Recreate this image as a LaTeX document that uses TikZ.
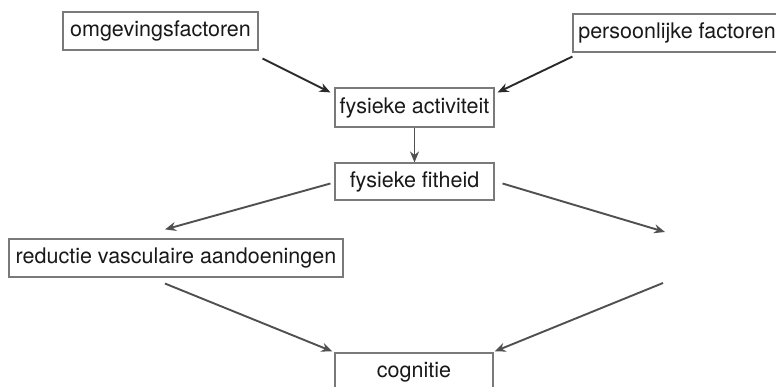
\documentclass[tikz,border=0pt]{standalone}
\usepackage{fontspec}
\setmainfont{TeX Gyre Heros}
\usetikzlibrary{arrows.meta,calc}
\definecolor{boxline}{HTML}{7A7A7A}
\definecolor{arrowdark}{HTML}{2A2A2A}
\definecolor{arrowgray}{HTML}{505050}
\tikzset{
  factor/.style={draw=boxline, line width=1.1pt, rectangle, inner sep=0pt,
    font=\fontsize{21.5}{24}\selectfont, text=black!90},
  link/.style={line width=1.9pt, draw=arrowgray,
    -{Stealth[length=11pt,width=9pt]}},
  linkdark/.style={link, draw=arrowdark},
}
\begin{document}
\begin{tikzpicture}[x=1pt,y=-1pt]
  \useasboundingbox[fill=white] (0,0) rectangle (776,387);

  % factor boxes
  \node[factor, minimum width=195pt, minimum height=38pt] (omg) at (160.5,31) {omgevingsfactoren};
  \node[factor, minimum width=208pt, minimum height=38pt] (pers) at (677,33) {persoonlijke factoren};
  \node[factor, minimum width=159pt, minimum height=39pt] (act) at (414.5,107.5) {fysieke activiteit};
  \node[factor, minimum width=159pt, minimum height=37pt] (fit) at (414.5,181.5) {fysieke fitheid};
  \node[factor, minimum width=334pt, minimum height=38pt] (red) at (176,258) {reductie vasculaire aandoeningen};
  \node[factor, minimum width=158pt, minimum height=46pt, text depth=0pt] (cog) at (414,376) {\raisebox{12pt}{cognitie}};

  % open ends on the right branch
  \coordinate (rtip) at (665,232);
  \coordinate (rstart) at (663,283);

  % connectors
  \draw[linkdark] ($(omg.south east)+(4,8)$) -- ($(act.north west)+(-4,5)$);
  \draw[linkdark] ($(pers.south west)+(0,4)$) -- ($(act.north east)+(3,5)$);
  \draw[link] (act.south) -- (fit.north);
  \draw[link] ($(fit.west)+(-4,2)$) -- ($(red.north)+(-11,-9)$);
  \draw[link] ($(fit.east)+(8,2)$) -- (rtip);
  \draw[link] ($(red.south)+(-11,6)$) -- ($(cog.north west)+(-2,-1)$);
  \draw[link] (rstart) -- ($(cog.north east)+(1,-1)$);
\end{tikzpicture}
\end{document}
